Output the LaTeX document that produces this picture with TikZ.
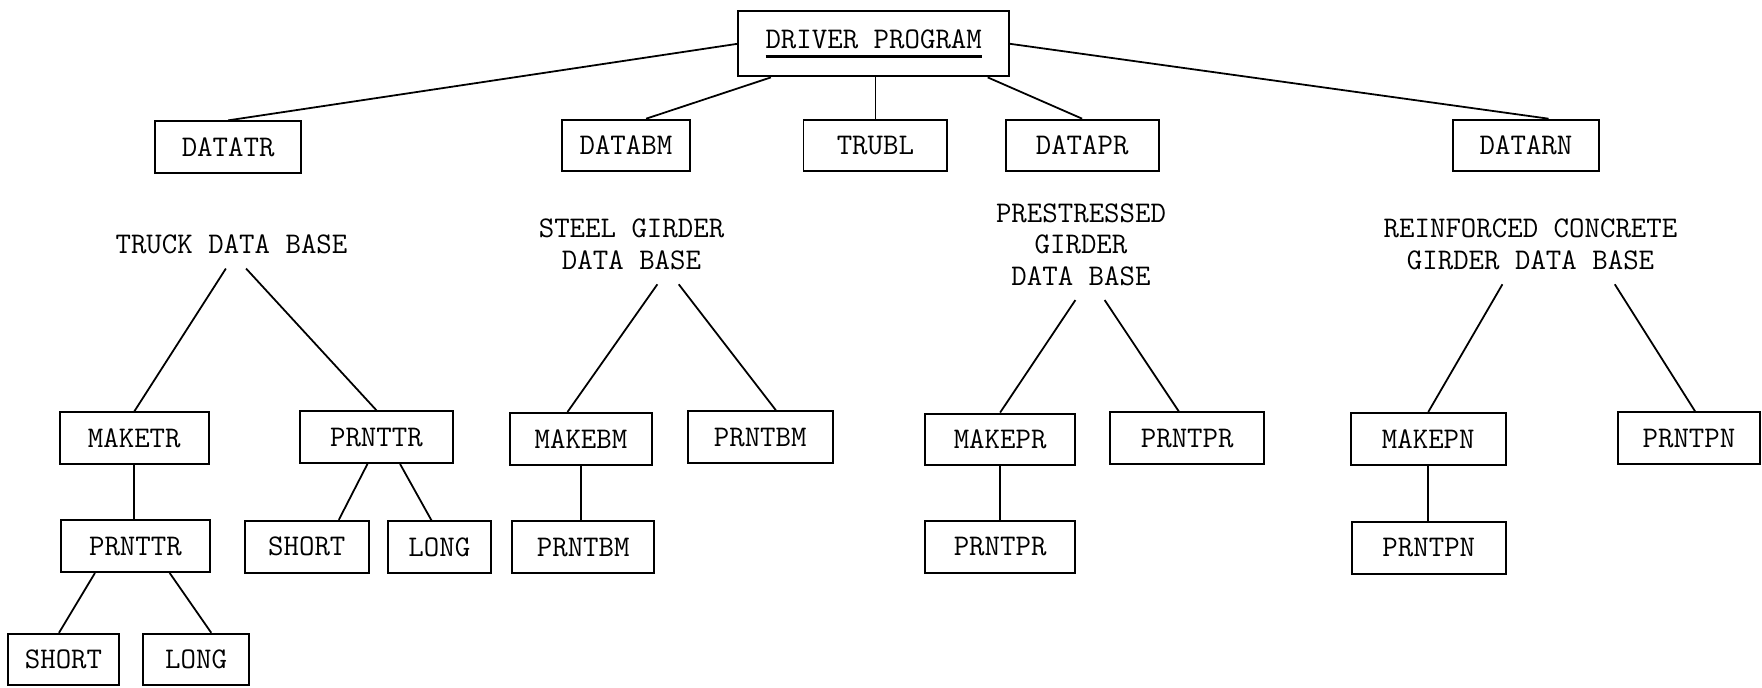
\documentclass[tikz,border=0pt]{standalone}
\usepackage{fontspec}
\newcommand{\heavyul}[1]{\setbox0\hbox{#1}\rlap{\rule[-4.5pt]{\wd0}{1.1pt}}\box0}

\tikzset{
  module/.style={draw, line width=1pt, minimum width=2.65cm, minimum height=0.92cm, inner sep=0pt, font=\ttfamily\fontsize{15.2}{16}\selectfont},
  dbase/.style={align=center, anchor=south, inner sep=0pt, text depth=0pt, font=\ttfamily\fontsize{15.2}{15.9}\selectfont},
  link/.style={line width=0.9pt}
}

\begin{document}
\begin{tikzpicture}[x=0.02cm, y=-0.02cm]
\useasboundingbox (0,0) rectangle (1568,612);

\node[module, minimum width=4.82cm, minimum height=1.16cm] (driver) at (777.5,39) {\heavyul{DRIVER PROGRAM}};

\node[module, minimum width=2.6cm] (datatr) at (203,131) {DATATR};
\node[module, minimum width=2.28cm] (databm) at (557,129.5) {DATABM};
\node[module, minimum width=2.56cm] (trubl) at (779,129.5) {TRUBL};
\node[module, minimum width=2.72cm] (datapr) at (963,129.5) {DATAPR};
\node[module, minimum width=2.6cm] (datarn) at (1358,129.5) {DATARN};

\draw[link] (driver.west) -- (datatr.north);
\draw[link] ([xshift=-1.83cm]driver.south) -- ([xshift=0.36cm]databm.north);
\draw[link] (trubl.north |- driver.south) -- (trubl.north);
\draw[link] ([xshift=2.03cm]driver.south) -- (datapr.north);
\draw[link] (driver.east) -- ([xshift=0.4cm]datarn.north);

% truck data base
\node[dbase] (truck) at (206,226) {TRUCK DATA BASE};
\node[module] (maketr) at (119.5,390) {MAKETR};
\node[module, minimum width=2.72cm] (prnttrA) at (335,389) {PRNTTR};
\node[module] (prnttrB) at (120.5,486) {PRNTTR};
\node[module, minimum width=1.98cm] (shortB) at (56.5,587) {SHORT};
\node[module, minimum width=1.9cm] (longB) at (174.5,587) {LONG};
\node[module, minimum width=2.2cm] (shortA) at (273,486.5) {SHORT};
\node[module, minimum width=1.84cm] (longA) at (391,487) {LONG};

\draw[link] ([xshift=-0.1cm,yshift=-0.26cm]truck.south) -- (maketr.north);
\draw[link] ([xshift=0.26cm,yshift=-0.26cm]truck.south) -- (prnttrA.north);
\draw[link] (maketr.south) -- (maketr.south |- prnttrB.north);
\draw[link] ([xshift=-0.72cm]prnttrB.south) -- ([xshift=-0.08cm]shortB.north);
\draw[link] ([xshift=0.61cm]prnttrB.south) -- ([xshift=0.27cm]longB.north);
\draw[link] ([xshift=-0.16cm]prnttrA.south) -- ([xshift=0.57cm]shortA.north);
\draw[link] ([xshift=0.42cm]prnttrA.south) -- ([xshift=-0.14cm]longA.north);

% steel girder data base
\node[dbase] (steel) at (562,240) {STEEL GIRDER\\DATA BASE};
\node[module, minimum width=2.52cm] (makebm) at (517,390.5) {MAKEBM};
\node[module, minimum width=2.58cm] (prntbmA) at (676.5,389) {PRNTBM};
\node[module, minimum width=2.52cm] (prntbmB) at (519,487) {PRNTBM};

\draw[link] ([xshift=0.46cm,yshift=-0.26cm]steel.south) -- ([xshift=-0.24cm]makebm.north);
\draw[link] ([xshift=0.84cm,yshift=-0.26cm]steel.south) -- ([xshift=0.28cm]prntbmA.north);
\draw[link] (makebm.south) -- (makebm.south |- prntbmB.north);

% prestressed girder data base
\node[dbase] (prestr) at (962,254) {PRESTRESSED\\GIRDER\\DATA BASE};
\node[module, minimum width=2.68cm] (makepr) at (890,391) {MAKEPR};
\node[module, minimum width=2.74cm] (prntprA) at (1056.5,390) {PRNTPR};
\node[module, minimum width=2.68cm] (prntprB) at (890,486.5) {PRNTPR};

\draw[link] ([xshift=-0.1cm,yshift=-0.26cm]prestr.south) -- (makepr.north);
\draw[link] ([xshift=0.42cm,yshift=-0.26cm]prestr.south) -- ([xshift=-0.15cm]prntprA.north);
\draw[link] (makepr.south) -- (makepr.south |- prntprB.north);

% reinforced concrete girder data base
\node[dbase] (reinf) at (1362,240) {REINFORCED CONCRETE\\GIRDER DATA BASE};
\node[module, minimum width=2.76cm] (makepn) at (1271,390.5) {MAKEPN};
\node[module, minimum width=2.52cm] (prntpnA) at (1503,390) {PRNTPN};
\node[module, minimum width=2.74cm] (prntpnB) at (1271.5,487.5) {PRNTPN};

\draw[link] ([xshift=-0.5cm,yshift=-0.26cm]reinf.south) -- (makepn.north);
\draw[link] ([xshift=1.5cm,yshift=-0.26cm]reinf.south) -- ([xshift=0.11cm]prntpnA.north);
\draw[link] (makepn.south) -- (makepn.south |- prntpnB.north);

\end{tikzpicture}
\end{document}
